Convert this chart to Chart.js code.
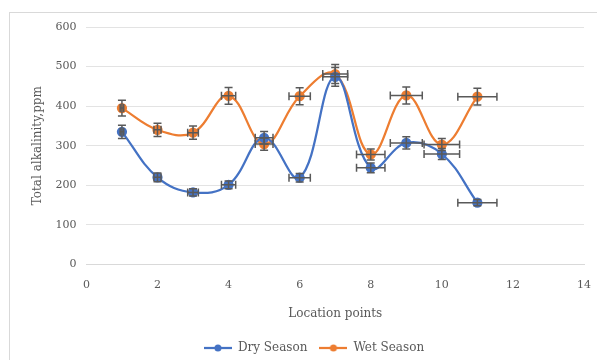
<!DOCTYPE html>
<html>
<head>
<meta charset="utf-8">
<script src="https://cdn.jsdelivr.net/npm/chart.js@4.4.1/dist/chart.umd.min.js"></script>
<style>
  html, body { margin: 0; padding: 0; background: #fff; }
  #wrap { position: relative; width: 597px; height: 360px; }
  #frame { position: absolute; left: 9px; top: 12px; right: 0; bottom: 0;
           border-left: 1px solid #d9d9d9; border-top: 1px solid #d9d9d9; }
  canvas { position: absolute; left: 0; top: 0; }
</style>
</head>
<body>
<div id="wrap">
  <div id="frame"></div>
  <canvas id="grafico" width="597" height="360"></canvas>
</div>
<script>
const locations = [1, 2, 3, 4, 5, 6, 7, 8, 9, 10, 11]
const drySeason = [335, 220, 182, 201, 320, 219, 474, 244, 307, 279, 156]
const wetSeason = [395, 340, 333, 426, 304, 425, 481, 278, 427, 303, 424]
const xTicks = [0, 2, 4, 6, 8, 10, 12, 14]
const yTicks = [0, 100, 200, 300, 400, 500, 600]
const errPct = 0.05 // percentage error bars on both axes

const azul = '#4472C4'
const laranja = '#ED7D31'
const cinza = '#595959'
const fonte = "'DejaVu Serif', serif"

function pontos(valores) {
  return locations.map((x, i) => ({ x: x, y: valores[i] }))
}

// desenha a amostra da legenda (linha com bolinha)
function amostra(cor) {
  const c = document.createElement('canvas')
  c.width = 28
  c.height = 10
  const ctx = c.getContext('2d')
  ctx.strokeStyle = cor
  ctx.lineWidth = 2.25
  ctx.beginPath()
  ctx.moveTo(0, 5)
  ctx.lineTo(28, 5)
  ctx.stroke()
  ctx.fillStyle = cor
  ctx.beginPath()
  ctx.arc(14, 5, 3.5, 0, Math.PI * 2)
  ctx.fill()
  return c
}

// barras de erro usando as escalas do grafico
const errorBars = {
  id: 'errorBars',
  afterDatasetsDraw(chart) {
    const ctx = chart.ctx
    const xs = chart.scales.x
    const ys = chart.scales.y
    const cap = 4
    ctx.save()
    ctx.strokeStyle = cinza
    ctx.lineWidth = 1.5
    chart.data.datasets.forEach(ds => {
      ds.data.forEach(p => {
        const px = xs.getPixelForValue(p.x)
        const py = ys.getPixelForValue(p.y)
        const yTop = ys.getPixelForValue(p.y * (1 + errPct))
        const yBot = ys.getPixelForValue(p.y * (1 - errPct))
        const xL = xs.getPixelForValue(p.x * (1 - errPct))
        const xR = xs.getPixelForValue(p.x * (1 + errPct))
        ctx.beginPath()
        ctx.moveTo(px, yTop); ctx.lineTo(px, yBot)
        ctx.moveTo(px - cap, yTop); ctx.lineTo(px + cap, yTop)
        ctx.moveTo(px - cap, yBot); ctx.lineTo(px + cap, yBot)
        ctx.moveTo(xL, py); ctx.lineTo(xR, py)
        ctx.moveTo(xL, py - cap); ctx.lineTo(xL, py + cap)
        ctx.moveTo(xR, py - cap); ctx.lineTo(xR, py + cap)
        ctx.stroke()
      })
    })
    ctx.restore()
  }
}

const g = new Chart(document.getElementById('grafico'), {
  type: 'scatter',
  data: {
    datasets: [{
      label: 'Dry Season',
      data: pontos(drySeason),
      borderColor: azul,
      backgroundColor: azul,
      showLine: true,
      tension: 0.4,
      borderWidth: 2.25,
      pointRadius: 4,
      pointHoverRadius: 4
    }, {
      label: 'Wet Season',
      data: pontos(wetSeason),
      borderColor: laranja,
      backgroundColor: laranja,
      showLine: true,
      tension: 0.4,
      borderWidth: 2.25,
      pointRadius: 4,
      pointHoverRadius: 4
    }]
  },
  options: {
    responsive: false,
    animation: false,
    layout: { padding: { left: 31, right: 0, top: 27, bottom: -4 } },
    plugins: {
      tooltip: { enabled: false },
      legend: {
        position: 'bottom',
        labels: {
          usePointStyle: true,
          pointStyleWidth: 28,
          boxHeight: 10,
          color: cinza,
          font: { family: fonte, size: 12 },
          padding: 12,
          generateLabels(chart) {
            return chart.data.datasets.map((ds, i) => ({
              text: ds.label,
              pointStyle: amostra(ds.borderColor),
              fillStyle: ds.borderColor,
              strokeStyle: ds.borderColor,
              lineWidth: 0,
              fontColor: cinza,
              datasetIndex: i
            }))
          }
        }
      }
    },
    scales: {
      x: {
        type: 'linear',
        min: xTicks[0],
        max: xTicks[xTicks.length - 1],
        afterBuildTicks(s) { s.ticks = xTicks.map(v => ({ value: v })) },
        grid: { display: false },
        border: { color: '#d9d9d9' },
        ticks: { color: cinza, font: { family: fonte, size: 11 }, padding: 6 },
        title: { display: true, text: 'Location points', color: cinza,
                 font: { family: fonte, size: 12 }, padding: { top: 9, bottom: 9 } }
      },
      y: {
        min: yTicks[0],
        max: yTicks[yTicks.length - 1],
        afterBuildTicks(s) { s.ticks = yTicks.map(v => ({ value: v })) },
        grid: { color: '#e3e3e3', drawTicks: false },
        border: { display: false },
        ticks: { color: cinza, font: { family: fonte, size: 11 }, padding: 10 },
        title: { display: true, text: 'Total alkalinity,ppm', color: cinza,
                 font: { family: fonte, size: 12 }, padding: { top: 0, bottom: 0 } }
      }
    }
  },
  plugins: [errorBars]
})
</script>
</body>
</html>
